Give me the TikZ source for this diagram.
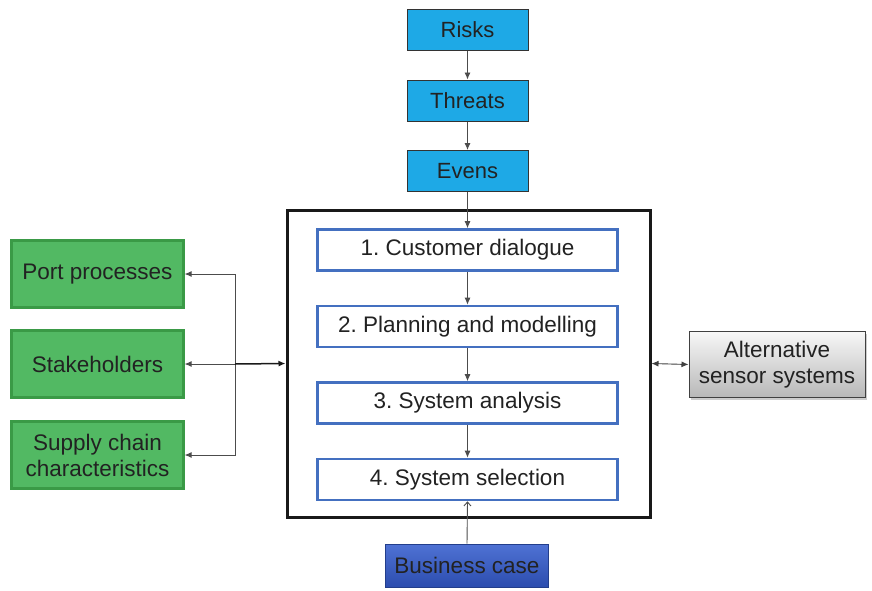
\documentclass[tikz,border=0pt]{standalone}
\usepackage{fontspec}
\setmainfont{Liberation Sans}
\frenchspacing
\usetikzlibrary{arrows.meta,shadows}
\definecolor{topblue}{HTML}{1EA9E6}
\definecolor{stepblue}{HTML}{4470C0}
\definecolor{gfill}{HTML}{52B963}
\definecolor{gdraw}{HTML}{3A9A46}
\definecolor{txt}{HTML}{222222}
\definecolor{bctop}{HTML}{4F72D4}
\definecolor{bcbot}{HTML}{2C4DAE}
\tikzset{
  topbox/.style={fill=topblue, draw=black!80, line width=1pt, minimum width=121pt, minimum height=41pt, inner sep=0pt, text=txt, font=\fontsize{22}{24}\selectfont},
  stepbox/.style={fill=white, draw=stepblue, line width=2.6pt, minimum width=300pt, minimum height=41pt, inner sep=0pt, text=txt, font=\fontsize{22.5}{24}\selectfont},
  greenbox/.style={fill=gfill, draw=gdraw, line width=2.2pt, minimum width=172pt, minimum height=67pt, inner sep=0pt, text=txt, align=center, font=\fontsize{22.5}{26}\selectfont},
  framebox/.style={draw=black!90, line width=3pt, minimum width=363pt, minimum height=307pt, inner sep=0pt},
  altbox/.style={top color=white!97!black, bottom color=black!28, draw=black!75, line width=1pt, minimum width=176pt, minimum height=66pt, inner sep=0pt, text=txt, align=center, font=\fontsize{22.5}{26}\selectfont, drop shadow={shadow xshift=2pt, shadow yshift=-2pt, opacity=0.4}},
  bcbox/.style={top color=bctop, bottom color=bcbot, draw=bcbot!80!black, line width=1pt, minimum width=163pt, minimum height=43pt, inner sep=0pt, text=txt, font=\fontsize{22.5}{24}\selectfont},
  conn/.style={draw=black!70, line width=0.9pt, -{Latex[length=7pt,width=6pt]}},
  dconn/.style={draw=black!75, line width=0.9pt, {Latex[length=7pt,width=6pt]}-{Latex[length=7pt,width=6pt]}},
}
\begin{document}
\begin{tikzpicture}[x=1pt,y=-1pt]
\useasboundingbox (0,0) rectangle (872,590);
\node[topbox] (risks) at (467.5,30) {Risks};
\node[topbox] (threats) at (467.5,100.5) {Threats};
\node[topbox] (evens) at (467.5,171) {Evens};
\node[framebox] (frame) at (468.5,363.5) {};
\node[stepbox] (s1) at (467.5,250) {1. Customer dialogue};
\node[stepbox] (s2) at (467.5,326.5) {2. Planning and modelling};
\node[stepbox] (s3) at (467.5,403) {3. System analysis};
\node[stepbox] (s4) at (467.5,479.5) {4. System selection};
\node[greenbox] (port) at (97.5,274) {Port processes};
\node[greenbox] (stake) at (97.5,364) {Stakeholders};
\node[greenbox] (supply) at (97.5,455) {Supply chain\\characteristics};
\node[altbox] (alt) at (777,364.5) {Alternative\\sensor systems};
\node[bcbox] (bc) at (467,565.5) {Business case};
\coordinate (j) at (235,364);
\draw[conn] (risks) -- (threats);
\draw[conn] (threats) -- (evens);
\draw[conn] (evens) -- (s1);
\draw[conn] (s1) -- (s2);
\draw[conn] (s2) -- (s3);
\draw[conn] (s3) -- (s4);
\draw[conn] (j) |- (port.east);
\draw[conn] (j) |- (supply.east);
\draw[conn] (j) -- (stake.east);
\draw[conn, draw=black!90, line width=1.5pt] (j) -- (frame.west);
\draw[dconn] (frame.east) -- (alt.west);
\draw[draw=black!70, line width=0.9pt, -{Straight Barb[length=4pt,width=7pt]}] (bc.north) -- (s4.south);
\end{tikzpicture}
\end{document}
